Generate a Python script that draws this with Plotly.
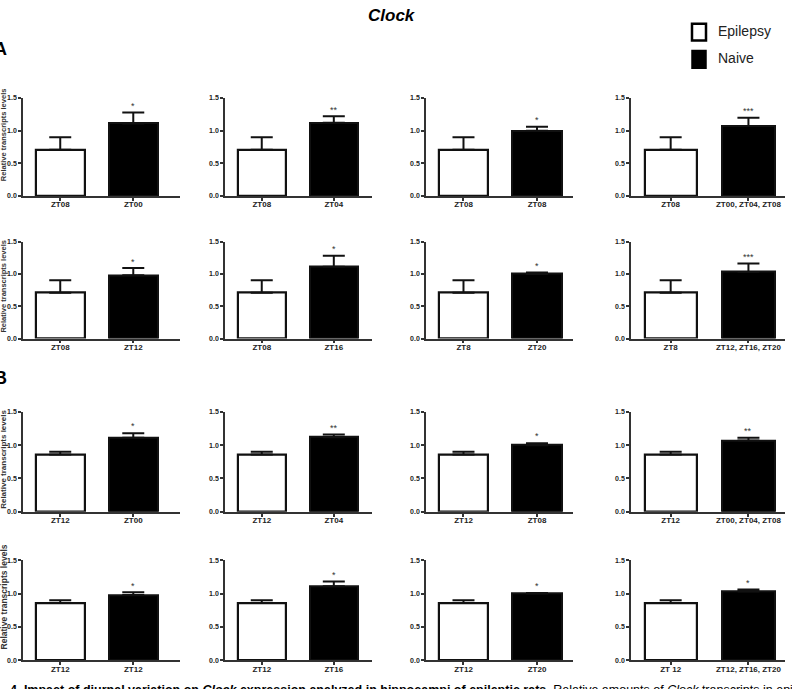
import plotly.graph_objects as go

W, H = 792, 689

# ---------------- data ----------------
title_text = "Clock"
series_names = ["Epilepsy", "Naive"]

# per panel: x tick labels (epilepsy, naive)
labels = [
    ["ZT08", "ZT00"], ["ZT08", "ZT04"], ["ZT08", "ZT08"], ["ZT08", "ZT00, ZT04, ZT08"],
    ["ZT08", "ZT12"], ["ZT08", "ZT16"], ["ZT8", "ZT20"], ["ZT8", "ZT12, ZT16, ZT20"],
    ["ZT12", "ZT00"], ["ZT12", "ZT04"], ["ZT12", "ZT08"], ["ZT12", "ZT00, ZT04, ZT08"],
    ["ZT12", "ZT12"], ["ZT12", "ZT16"], ["ZT12", "ZT20"], ["ZT 12", "ZT12, ZT16, ZT20"],
]
epilepsy_mean = [0.71, 0.71, 0.71, 0.71,
                 0.71, 0.71, 0.71, 0.71,
                 0.86, 0.86, 0.86, 0.86,
                 0.86, 0.86, 0.86, 0.86]
epilepsy_err = [0.19, 0.19, 0.19, 0.19,
                0.19, 0.19, 0.19, 0.19,
                0.04, 0.04, 0.04, 0.04,
                0.04, 0.04, 0.04, 0.04]
naive_mean = [1.11, 1.12, 1.00, 1.07,
              0.98, 1.11, 1.00, 1.03,
              1.11, 1.12, 1.00, 1.07,
              0.98, 1.11, 1.00, 1.03]
naive_err = [0.17, 0.10, 0.06, 0.13,
             0.11, 0.17, 0.02, 0.13,
             0.07, 0.04, 0.03, 0.04,
             0.04, 0.07, 0.01, 0.03]
stars = ["*", "**", "*", "***",
         "*", "*", "*", "***",
         "*", "**", "*", "**",
         "*", "*", "*", "*"]
y_ticks = [0.0, 0.5, 1.0, 1.5]
y_title = "Relative transcripts levels"
caption_bold = "4. Impact of diurnal variation on <i>Clock</i> expression analyzed in hippocampi of epileptic rats."
caption_rest = " Relative amounts of <i>Clock</i> transcripts in epileptic tissues"

# ---------------- layout (pixels) ----------------
col_px = [(23, 180), (225, 372), (426, 573), (631, 785)]
col_xmax = [1.64, 1.53, 1.49, 1.47]
row_px = [(95, 194), (240, 338), (412, 513), (562, 663)]
ytitle_center = [132, 285, 460, 599]
ytitle_size = [7.5, 7.5, 8, 8.5]

FONT = "Arial, Liberation Sans, sans-serif"
fig = go.Figure()

for i in range(16):
    r, c = divmod(i, 4)
    n = i + 1
    xa = "x" if n == 1 else f"x{n}"
    ya = "y" if n == 1 else f"y{n}"
    fig.add_trace(go.Bar(
        x=[0], y=[epilepsy_mean[i]], xaxis=xa, yaxis=ya, width=0.67,
        marker=dict(color="white", line=dict(color="#111", width=2.2)),
        error_y=dict(type="data", symmetric=False, array=[epilepsy_err[i]], arrayminus=[0],
                     color="#111", thickness=2, width=11),
        showlegend=False, name=series_names[0]))
    fig.add_trace(go.Bar(
        x=[1], y=[naive_mean[i]], xaxis=xa, yaxis=ya, width=0.67,
        marker=dict(color="black", line=dict(color="#111", width=2)),
        error_y=dict(type="data", symmetric=False, array=[naive_err[i]], arrayminus=[0],
                     color="#111", thickness=2, width=11),
        showlegend=False, name=series_names[1]))
    x0, x1 = col_px[c]
    y0, y1 = row_px[r]
    ax_common = dict(showgrid=False, zeroline=False, showline=True, linecolor="#333",
                     linewidth=1.5, ticks="outside", tickcolor="#333", tickwidth=1.5,
                     ticklen=3)
    fig.layout[f"xaxis{'' if n == 1 else n}"] = dict(
        domain=[x0 / W, x1 / W], anchor=ya, range=[-0.51, col_xmax[c]],
        tickvals=[0, 1], ticktext=labels[i], ticklabelstandoff=-3,
        tickfont=dict(family=FONT, size=8, color="#222", weight="bold"), **ax_common)
    fig.layout[f"yaxis{'' if n == 1 else n}"] = dict(
        domain=[1 - y1 / H, 1 - y0 / H], anchor=xa, range=[0, 1.5],
        tickvals=y_ticks, tickformat=".1f",
        tickfont=dict(family=FONT, size=7, color="#222", weight="bold"), **ax_common)
    fig.add_annotation(x=1, y=naive_mean[i] + naive_err[i] + 0.1, xref=xa, yref=ya,
                       text=stars[i], showarrow=False, xanchor="center", yanchor="middle",
                       font=dict(family=FONT, size=9, color="#333"))
    if c == 0:
        fig.add_annotation(x=3.5 / W, y=1 - ytitle_center[r] / H, xref="paper", yref="paper",
                           xanchor="center", yanchor="middle",
                           text=f"<b>{y_title}</b>", textangle=-90, showarrow=False,
                           font=dict(family=FONT, size=ytitle_size[r], color="#333"))

# title
fig.add_annotation(x=392 / W, y=1 - 12 / H, xref="paper", yref="paper",
                   xanchor="center", yanchor="middle",
                   text=f"<b><i>{title_text}</i></b>", showarrow=False,
                   font=dict(family=FONT, size=17, color="black"))
# panel letters
for letter, ypx in [("A", 45), ("B", 378)]:
    fig.add_annotation(x=-8 / W, y=1 - ypx / H, xref="paper", yref="paper",
                       xanchor="left", yanchor="middle",
                       text=f"<b>{letter}</b>", showarrow=False,
                       font=dict(family=FONT, size=18, color="black"))
# legend boxes
fig.add_shape(type="rect", xref="paper", yref="paper",
              x0=692 / W, x1=706 / W, y0=1 - 37 / H, y1=1 - 20 / H,
              line=dict(color="black", width=2.5), fillcolor="white")
fig.add_shape(type="rect", xref="paper", yref="paper",
              x0=692 / W, x1=706 / W, y0=1 - 65 / H, y1=1 - 47 / H,
              line=dict(color="black", width=1.5), fillcolor="black")
for name, ypx in [(series_names[0], 27), (series_names[1], 55)]:
    fig.add_annotation(x=716 / W, y=1 - ypx / H, xref="paper", yref="paper",
                       xanchor="left", yanchor="middle",
                       text=name, showarrow=False,
                       font=dict(family=FONT, size=14, color="#222"))
# caption (cut off at the bottom, as in the reference)
fig.add_annotation(x=8 / W, y=1 - 684 / H, xref="paper", yref="paper", xanchor="left",
                   yanchor="top", text=f"<b>{caption_bold}</b>{caption_rest}", showarrow=False,
                   font=dict(family=FONT, size=12.5, color="black"))

fig.update_layout(width=W, height=H, margin=dict(l=0, r=0, t=0, b=0),
                  plot_bgcolor="white", paper_bgcolor="white", bargap=0)
fig.write_html("out.html")
